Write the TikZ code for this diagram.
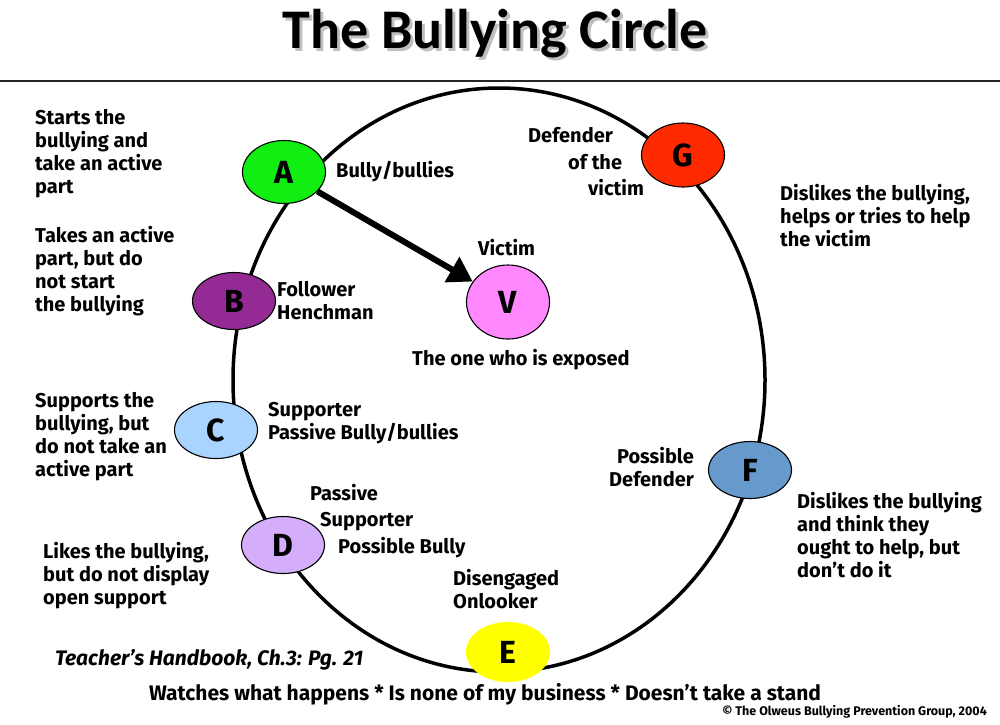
\documentclass[tikz,border=0pt]{standalone}
\usepackage{fontspec}
\setmainfont{Fira Sans}
\newfontfamily\titlefont{Carlito}
\usetikzlibrary{shapes.geometric,arrows.meta,positioning}
\definecolor{bullyA}{HTML}{11EE11}
\definecolor{followB}{HTML}{942A93}
\definecolor{supportC}{HTML}{A8D4FF}
\definecolor{passiveD}{HTML}{D5AEFB}
\definecolor{onlookE}{HTML}{FFFF00}
\definecolor{possibleF}{HTML}{6699CC}
\definecolor{defendG}{HTML}{FF2A00}
\definecolor{victimV}{HTML}{FF88FF}

\begin{document}
\begin{tikzpicture}[x=1pt,y=-1pt,
  role/.style={ellipse, draw=black, line width=1.1pt, inner sep=0pt,
    minimum width=83pt, minimum height=57pt, font=\bfseries\fontsize{32}{32}\selectfont},
  desc/.style={anchor=north west, inner sep=0pt, align=left,
    font=\bfseries\fontsize{20}{23}\selectfont},
  titletext/.style={font=\titlefont\bfseries\fontsize{56}{56}\selectfont}]
\useasboundingbox (0,0) rectangle (1000,724);

% title and rule
\node[titletext, text=black!25] (titleshadow) at (498,37) {The Bullying Circle};
\node[titletext] (title) at (495,34) {The Bullying Circle};
\draw[line width=2pt, black!85] (0,81) -- (1000,81);

% the circle
\draw[line width=3.5pt] (499,380) ellipse [x radius=266, y radius=292];

% roles
\node[role, fill=bullyA, minimum height=63pt] (A) at (284,172) {A};
\node[role, fill=followB] (B) at (234,301) {B};
\node[role, fill=supportC] (C) at (216,430) {C};
\node[role, fill=passiveD] (D) at (283,545) {D};
\node[role, fill=onlookE, draw=onlookE, minimum height=59pt] (E) at (508,652) {E};
\node[role, fill=possibleF] (F) at (750,470) {F};
\node[role, fill=defendG, minimum height=64pt] (G) at (683,155) {G};
\node[role, fill=victimV, minimum height=74pt] (V) at (508,302) {V};

\draw[line width=6pt, -{Triangle[length=24pt,width=28pt]}] (A) -- (V);

% labels beside the roles
\node[desc] (bullyLbl) at (336,161) {Bully/bullies};
\node[desc] (defLbl1) at (528,127) {Defender};
\node[desc] (defLbl2) at (568,154) {of the};
\node[desc] (defLbl3) at (588,179) {victim};
\node[desc] (victimLbl) at (478,239) {Victim};
\node[desc] (exposedLbl) at (412,349) {The one who is exposed};
\node[desc] (followLbl) at (277,281) {Follower\\Henchman};
\node[desc] (supportLbl) at (268,402) {Supporter\\Passive Bully/bullies};
\node[desc] (passLbl1) at (310,484) {Passive};
\node[desc] (passLbl2) at (320,512) {Supporter};
\node[desc] (passLbl3) at (338,537) {Possible Bully};
\node[desc, anchor=north east, align=right] (possLbl) at (694,447) {Possible\\Defender};
\node[desc] (onlookLbl) at (453,569) {Disengaged\\Onlooker};

% descriptions
\node[desc] (startsTxt) at (35,109) {Starts the\\bullying and\\take an active\\part};
\node[desc] (takesTxt) at (35,226) {Takes an active\\part, but do\\not start\\the bullying};
\node[desc] (supportsTxt) at (35,392) {Supports the\\bullying, but\\do not take an\\active part};
\node[desc] (likesTxt) at (43,542) {Likes the bullying,\\but do not display\\open support};
\node[desc] (helpsTxt) at (780,184) {Dislikes the bullying,\\helps or tries to help\\the victim};
\node[desc] (oughtTxt) at (797,492) {Dislikes the bullying\\and think they\\ought to help, but\\don't do it};

% footer
\node[desc, font=\bfseries\itshape\fontsize{21}{21}\selectfont] (bookTxt) at (55,649) {Teacher's Handbook, Ch.3: Pg. 21};
\node[desc, anchor=north, font=\bfseries\fontsize{21}{21}\selectfont] (watchTxt) at (485,683) {Watches what happens * Is none of my business * Doesn't take a stand};
\node[anchor=east, inner sep=0pt, font=\bfseries\fontsize{12.5}{12.5}\selectfont] (copyTxt) at (987,712) {© The Olweus Bullying Prevention Group, 2004};
\end{tikzpicture}
\end{document}
